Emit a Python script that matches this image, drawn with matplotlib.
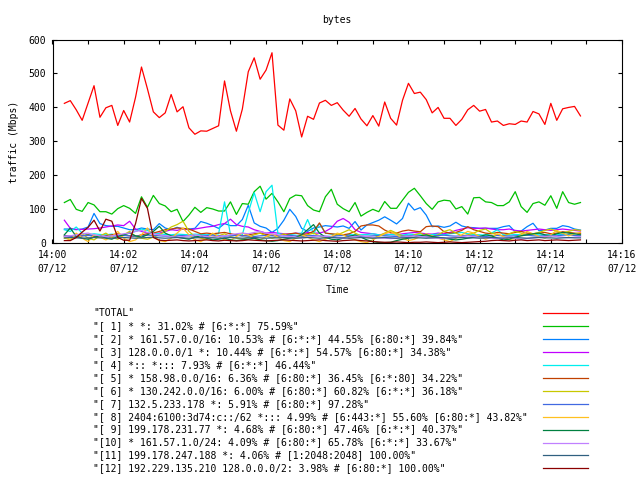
import matplotlib
matplotlib.use("Agg")
import matplotlib.pyplot as plt
import matplotlib.dates as mdates
from matplotlib.lines import Line2D
import pandas as pd

# muestras cada 10 s, de 14:00:20 a 14:14:50
tiempos = pd.date_range("2011-07-12 14:00:20", periods=88, freq="10s")

total = [412, 420, 393, 362, 413, 464, 371, 399, 406, 347,
         391, 357, 430, 519, 455, 387, 370, 384, 438, 387,
         402, 340, 321, 331, 330, 338, 346, 478, 390, 330,
         395, 505, 546, 483, 510, 561, 348, 333, 425, 390,
         313, 374, 365, 413, 421, 406, 414, 392, 374, 397,
         366, 346, 376, 345, 416, 368, 348, 421, 471, 441,
         445, 423, 384, 400, 368, 368, 347, 365, 393, 406,
         389, 394, 357, 360, 347, 352, 350, 360, 357, 388,
         381, 350, 412, 362, 396, 400, 403, 375]

s1 = [120, 129, 100, 94, 120, 113, 93, 93, 86, 102,
      111, 103, 88, 137, 106, 141, 117, 110, 93, 100,
      64, 83, 106, 91, 105, 101, 95, 95, 122, 85,
      117, 115, 152, 168, 130, 147, 122, 93, 132, 142,
      140, 111, 98, 93, 137, 159, 115, 102, 93, 120,
      80, 91, 100, 93, 123, 103, 103, 127, 150, 162,
      140, 117, 100, 122, 127, 125, 101, 108, 86, 134,
      135, 122, 120, 111, 111, 122, 152, 108, 91, 117,
      122, 112, 140, 103, 152, 120, 115, 120]

s2 = [42, 42, 40, 42, 48, 88, 58, 52, 50, 50,
      45, 40, 40, 45, 42, 40, 58, 45, 40, 47,
      42, 42, 44, 64, 59, 52, 44, 58, 52, 52,
      70, 112, 60, 50, 45, 32, 44, 68, 100, 79,
      44, 35, 45, 48, 52, 50, 48, 51, 44, 64,
      39, 54, 61, 68, 78, 68, 57, 73, 118, 98,
      105, 83, 49, 51, 47, 51, 62, 51, 47, 46,
      44, 44, 44, 44, 49, 52, 34, 36, 49, 59,
      37, 39, 44, 44, 52, 49, 42, 39]

s3 = [68, 44, 41, 41, 42, 43, 45, 48, 51, 54,
      52, 65, 42, 35, 30, 28, 30, 35, 40, 38,
      42, 40, 42, 45, 48, 50, 55, 58, 71, 55,
      50, 48, 40, 35, 30, 32, 30, 28, 27, 30,
      28, 32, 30, 30, 35, 45, 65, 73, 62, 40,
      32, 30, 28, 25, 27, 26, 25, 28, 30, 32,
      30, 28, 27, 30, 28, 32, 38, 42, 46, 44,
      44, 45, 42, 40, 40, 42, 38, 36, 38, 40,
      42, 40, 38, 40, 42, 40, 38, 36]

s4 = [40, 35, 48, 30, 25, 28, 26, 25, 27, 24,
      26, 30, 35, 42, 38, 30, 28, 26, 25, 27,
      26, 25, 27, 26, 25, 26, 28, 122, 25, 24,
      25, 90, 149, 93, 152, 171, 29, 25, 26, 28,
      30, 70, 28, 58, 30, 27, 26, 25, 26, 24,
      25, 26, 28, 25, 24, 26, 25, 24, 27, 26,
      25, 24, 26, 27, 25, 28, 30, 32, 28, 26,
      25, 24, 30, 40, 25, 24, 26, 25, 27, 26,
      25, 24, 26, 27, 25, 26, 28, 30]

s5 = [22, 20, 18, 22, 25, 20, 18, 22, 25, 28,
      24, 22, 20, 25, 28, 30, 35, 40, 42, 45,
      44, 42, 35, 28, 30, 28, 30, 32, 28, 25,
      22, 25, 28, 30, 26, 24, 22, 25, 28, 30,
      26, 28, 35, 60, 30, 28, 26, 25, 28, 35,
      51, 54, 54, 51, 39, 31, 30, 36, 39, 36,
      34, 49, 51, 49, 34, 30, 32, 38, 49, 40,
      35, 30, 28, 32, 30, 28, 32, 35, 30, 28,
      30, 32, 28, 30, 34, 32, 30, 28]

s6 = [15, 12, 20, 28, 15, 10, 22, 30, 18, 12,
      25, 35, 20, 15, 12, 18, 25, 35, 48, 55,
      65, 35, 20, 15, 12, 18, 22, 28, 20, 15,
      12, 18, 25, 30, 22, 15, 20, 28, 20, 15,
      18, 25, 30, 22, 15, 18, 25, 32, 40, 30,
      22, 18, 15, 22, 30, 38, 30, 22, 18, 25,
      30, 22, 18, 25, 35, 40, 30, 22, 25, 30,
      38, 42, 30, 25, 22, 28, 35, 30, 25, 28,
      32, 38, 42, 35, 30, 35, 40, 38]

s7 = [22, 21, 20, 22, 23, 22, 21, 20, 21, 22,
      23, 22, 21, 22, 24, 23, 22, 21, 20, 22,
      23, 22, 21, 22, 23, 24, 22, 21, 22, 23,
      22, 21, 20, 22, 23, 22, 21, 22, 23, 22,
      21, 22, 23, 22, 21, 20, 22, 23, 22, 21,
      20, 21, 22, 23, 22, 21, 20, 21, 22, 23,
      22, 21, 22, 23, 24, 22, 21, 22, 23, 22,
      21, 20, 22, 23, 22, 21, 22, 23, 24, 22,
      21, 22, 23, 22, 24, 25, 23, 22]

s8 = [20, 8, 30, 15, 5, 25, 18, 10, 20, 35,
      15, 5, 10, 25, 45, 20, 8, 5, 15, 30,
      45, 25, 10, 5, 15, 30, 20, 10, 8, 20,
      30, 25, 15, 10, 20, 28, 18, 8, 5, 15,
      25, 18, 10, 5, 12, 20, 30, 25, 15, 10,
      5, 2, 10, 20, 28, 35, 25, 15, 8, 12,
      20, 28, 22, 15, 10, 5, 15, 25, 35, 30,
      20, 12, 18, 28, 20, 10, 15, 25, 35, 28,
      20, 15, 25, 38, 30, 22, 28, 32]

s9 = [25, 45, 20, 15, 12, 18, 22, 15, 12, 20,
      25, 30, 22, 18, 25, 35, 50, 30, 22, 18,
      15, 12, 18, 22, 15, 10, 12, 15, 10, 8,
      10, 12, 15, 10, 8, 6, 8, 12, 15, 18,
      25, 40, 55, 30, 18, 12, 10, 15, 20, 25,
      18, 10, 5, 2, 2, 3, 8, 12, 15, 18,
      22, 25, 20, 18, 15, 12, 10, 12, 15, 18,
      20, 25, 22, 15, 10, 12, 18, 22, 25, 28,
      30, 25, 22, 28, 32, 30, 28, 25]

s10 = [20, 22, 25, 28, 30, 25, 22, 20, 22, 25,
       28, 30, 35, 38, 32, 28, 25, 22, 20, 18,
       20, 22, 25, 22, 20, 18, 20, 22, 25, 28,
       30, 28, 32, 35, 30, 28, 25, 22, 20, 18,
       16, 18, 20, 22, 20, 18, 16, 15, 18, 20,
       22, 20, 18, 16, 15, 14, 15, 18, 20, 22,
       20, 18, 16, 15, 14, 16, 18, 20, 22, 20,
       18, 16, 15, 14, 16, 18, 15, 12, 14, 16,
       18, 20, 22, 20, 18, 16, 18, 20]

s11 = [16, 17, 16, 15, 16, 17, 16, 16, 15, 16,
       17, 16, 15, 16, 17, 18, 16, 15, 16, 17,
       16, 15, 16, 17, 16, 16, 15, 16, 17, 16,
       15, 16, 17, 16, 15, 16, 16, 17, 16, 15,
       16, 17, 16, 15, 16, 17, 16, 16, 15, 16,
       17, 16, 15, 16, 17, 16, 15, 16, 17, 16,
       16, 15, 16, 17, 16, 15, 16, 17, 16, 16,
       15, 16, 17, 16, 15, 16, 17, 16, 15, 16,
       17, 16, 16, 15, 16, 17, 16, 16]

s12 = [8, 8, 17, 33, 47, 68, 36, 71, 65, 17,
       9, 9, 58, 132, 103, 17, 9, 8, 9, 10,
       8, 7, 8, 9, 10, 8, 7, 9, 8, 7,
       8, 10, 9, 8, 7, 8, 9, 10, 9, 8,
       7, 8, 9, 10, 8, 7, 6, 8, 9, 10,
       8, 7, 5, 4, 3, 3, 4, 3, 2, 3,
       3, 4, 3, 2, 3, 4, 3, 2, 3, 4,
       5, 6, 8, 9, 8, 7, 9, 10, 8, 9,
       10, 8, 9, 10, 9, 8, 9, 10]

series = [total, s1, s2, s3, s4, s5, s6, s7, s8, s9, s10, s11, s12]

etiquetas = [
    '"TOTAL"',
    '"[ 1] * *: 31.02% # [6:*:*] 75.59%"',
    '"[ 2] * 161.57.0.0/16: 10.53% # [6:*:*] 44.55% [6:80:*] 39.84%"',
    '"[ 3] 128.0.0.0/1 *: 10.44% # [6:*:*] 54.57% [6:80:*] 34.38%"',
    '"[ 4] *:: *::: 7.93% # [6:*:*] 46.44%"',
    '"[ 5] * 158.98.0.0/16: 6.36% # [6:80:*] 36.45% [6:*:80] 34.22%"',
    '"[ 6] * 130.242.0.0/16: 6.00% # [6:80:*] 60.82% [6:*:*] 36.18%"',
    '"[ 7] 132.5.233.178 *: 5.91% # [6:80:*] 97.28%"',
    '"[ 8] 2404:6100:3d74:c::/62 *::: 4.99% # [6:443:*] 55.60% [6:80:*] 43.82%"',
    '"[ 9] 199.178.231.77 *: 4.68% # [6:80:*] 47.46% [6:*:*] 40.37%"',
    '"[10] * 161.57.1.0/24: 4.09% # [6:80:*] 65.78% [6:*:*] 33.67%"',
    '"[11] 199.178.247.188 *: 4.06% # [1:2048:2048] 100.00%"',
    '"[12] 192.229.135.210 128.0.0.0/2: 3.98% # [6:80:*] 100.00%"',
]

colores = ['#ff0000', '#00c000', '#0080ff', '#c000ff', '#00eeee', '#c04000',
           '#c8c800', '#4169e1', '#ffc020', '#008040', '#c080ff', '#306080',
           '#8b0000']

plt.rcParams['font.family'] = ['DejaVu Sans Mono']
fs = 7

fig = plt.figure(figsize=(6.4, 4.8), dpi=100)
ax = fig.add_axes([52.5 / 640, 1 - 243.3 / 480, (622 - 52.5) / 640, (243.3 - 39.5) / 480])

for datos, color in zip(series, colores):
    ax.plot(tiempos, datos, color=color, linewidth=0.9)

ax.set_xlim(pd.Timestamp("2011-07-12 14:00"), pd.Timestamp("2011-07-12 14:16"))
ax.set_ylim(0, 600)
ax.set_yticks(range(0, 601, 100))
ax.xaxis.set_major_locator(mdates.MinuteLocator(byminute=range(0, 60, 2)))
ax.xaxis.set_minor_locator(mdates.MinuteLocator())
ax.xaxis.set_major_formatter(mdates.DateFormatter('%H:%M\n%m/%d'))
ax.tick_params(which='both', direction='in', top=True, right=True,
               labelsize=fs, width=0.8, colors='black')
ax.tick_params(which='major', length=3, pad=4.5)
ax.tick_params(which='minor', length=3)
for lado in ax.spines.values():
    lado.set_linewidth(0.8)

ax.set_title('bytes', fontsize=fs, pad=12)
ax.set_ylabel('traffic (Mbps)', fontsize=fs, labelpad=7)
ax.set_xlabel('Time', fontsize=fs, labelpad=8)

fig.canvas.draw()
for t in ax.get_xticklabels():
    t.set_linespacing(1.5)

# leyenda a mano, estilo gnuplot: texto a la izquierda, linea a la derecha
for k, (texto, color) in enumerate(zip(etiquetas, colores)):
    y = 1 - (313.3 + 12.92 * k) / 480
    fig.text(93 / 640, y, texto, fontsize=fs, va='center', ha='left')
    fig.add_artist(Line2D([543 / 640, 588 / 640], [y, y], color=color,
                          linewidth=0.9, transform=fig.transFigure))

fig.savefig('out.png', dpi=100)
